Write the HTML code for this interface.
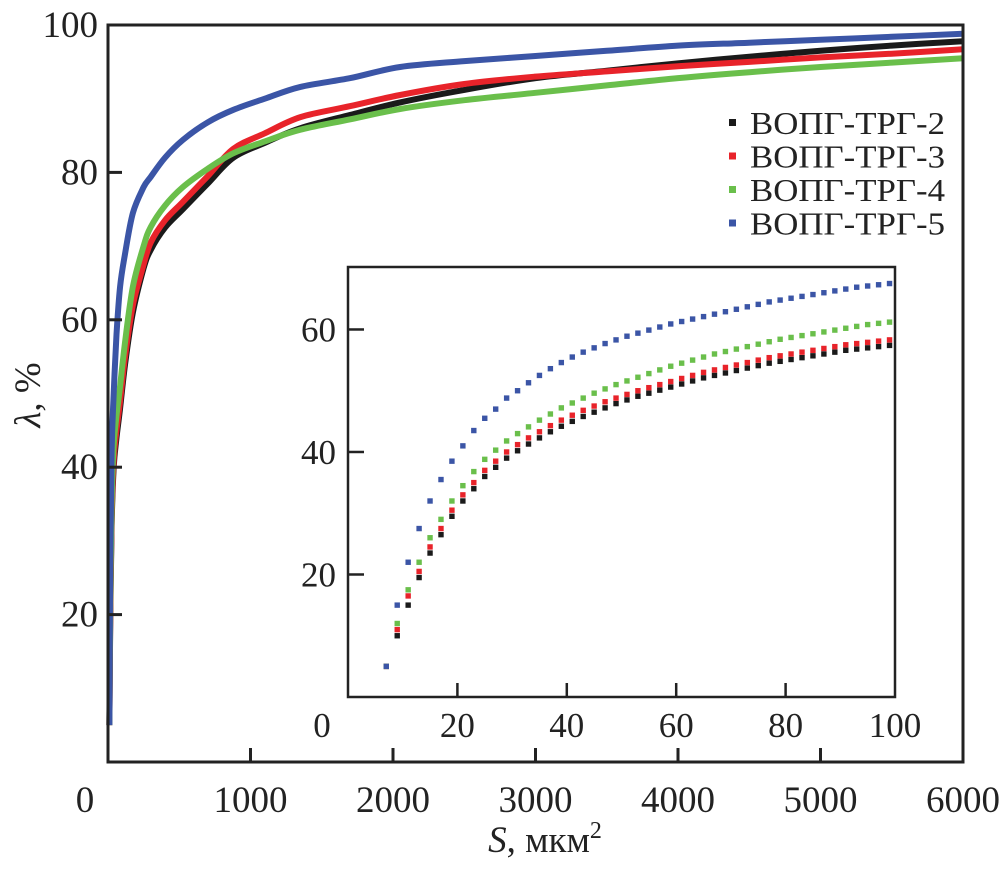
<!DOCTYPE html>
<html><head><meta charset="utf-8"><style>
body{margin:0;background:#fff;}
svg text{font-family:"Liberation Serif",serif;fill:#222;}
</style></head><body>
<svg id="chart" width="1001" height="870" viewBox="0 0 1001 870" xmlns="http://www.w3.org/2000/svg">
<g id="main"></g><g id="inset"></g>
</svg>
<script>
const mainS=[10,15,25,40,60,85,120,175,250,300,400,525,700,880,1100,1350,1700,2050,2500,3000,3500,4000,4500,5000,5500,6000];
const mainBlack=[5,17,32,40,44,48,54,61,67,69.5,72.5,75,78.5,82,84,86,87.8,89.5,91.2,92.8,93.8,94.8,95.7,96.5,97.2,97.8];
const mainRed=[5,18,33,41,45,49,55,62,67.5,70.5,73.5,76,79.5,83.2,85.3,87.5,89,90.5,92,93,93.7,94.4,95,95.6,96.1,96.7];
const mainGreen=[5,20,35,43,47,51,57,64.5,70,72.6,75.5,78,80.5,82.6,84.2,85.8,87.2,88.6,89.8,90.8,91.8,92.8,93.6,94.3,94.9,95.5];
const mainBlue=[5,25,42,50,58,64.5,69,74.5,78,79.4,82,84.4,86.8,88.5,90,91.6,92.8,94.3,95.1,95.8,96.5,97.2,97.6,98,98.4,98.8];
const mainXTicks=[0,1000,2000,3000,4000,5000,6000];
const mainYTicks=[20,40,60,80,100];
const insS=[7,9,11,13,15,17,19,21,23,25,27,29,31,33,35,37,39,41,43,45,47,49,51,53,55,57,59,61,63,65,67,69,71,73,75,77,79,81,83,85,87,89,91,93,95,97,99];
const insBlue=[5,15,22,27.5,32,35.5,38.5,41,43.5,45.5,47,48.8,50,51.3,52.5,53.6,54.6,55.5,56.3,57,57.7,58.3,58.9,59.4,59.9,60.4,60.9,61.3,61.7,62.1,62.5,62.9,63.3,63.7,64.1,64.5,64.8,65.1,65.4,65.7,66,66.3,66.6,66.9,67.1,67.3,67.5];
const insGreen=[5,12,17.5,22,26,29,32,34.5,36.8,38.8,40.3,41.8,43,44.1,45.2,46.2,47.2,48,48.8,49.6,50.3,51,51.6,52.2,52.8,53.4,54,54.5,55,55.5,56,56.4,56.8,57.2,57.6,58,58.4,58.7,59,59.3,59.6,59.9,60.2,60.5,60.8,61,61.2];
const insRed=[5,11,16.5,20.5,24.5,27.5,30.5,33,35,37,38.5,40,41.2,42.3,43.3,44.3,45.2,46,46.8,47.5,48.2,48.8,49.4,50,50.5,51,51.5,52,52.5,53,53.4,53.8,54.2,54.6,55,55.4,55.7,56,56.3,56.6,56.9,57.2,57.5,57.7,57.9,58.1,58.3];
const insBlack=[5,10,15,19.5,23.5,26.5,29.5,32,34,36,37.5,39,40.2,41.3,42.3,43.3,44.2,45,45.8,46.5,47.2,47.9,48.5,49.1,49.6,50.1,50.6,51.1,51.6,52.1,52.5,52.9,53.3,53.7,54.1,54.5,54.8,55.1,55.4,55.7,56,56.3,56.6,56.8,57,57.2,57.4];
const insXTicks=[0,20,40,60,80,100];
const insYTicks=[20,40,60];
const seriesNames=["ВОПГ-ТРГ-2","ВОПГ-ТРГ-3","ВОПГ-ТРГ-4","ВОПГ-ТРГ-5"];
const colors=["#1a1a1a","#e8232a","#6abf4b","#3b55a6"];

const NS="http://www.w3.org/2000/svg";
function mk(tag,attrs,parent,txt){const e=document.createElementNS(NS,tag);for(const k in attrs)e.setAttribute(k,attrs[k]);if(txt!==undefined)e.textContent=txt;parent.appendChild(e);return e;}
const mx=v=>108+v/6000*855, my=v=>762-v/100*737;
const ix=v=>348+v/100*547, iy=v=>697-v/70.2*430;
const gM=document.getElementById('main'), gI=document.getElementById('inset');

function smoothPath(P){
  let d='M'+P[0][0].toFixed(1)+','+P[0][1].toFixed(1);
  for(let i=0;i<P.length-1;i++){
    const p0=P[Math.max(0,i-1)],p1=P[i],p2=P[i+1],p3=P[Math.min(P.length-1,i+2)];
    const c1=[p1[0]+(p2[0]-p0[0])/6,p1[1]+(p2[1]-p0[1])/6];
    const c2=[p2[0]-(p3[0]-p1[0])/6,p2[1]-(p3[1]-p1[1])/6];
    d+=' C'+c1.map(n=>n.toFixed(1)).join(',')+' '+c2.map(n=>n.toFixed(1)).join(',')+' '+p2.map(n=>n.toFixed(1)).join(',');
  }
  return d;
}
[mainBlack,mainRed,mainGreen,mainBlue].forEach((arr,si)=>{
  const P=arr.map((v,i)=>[mx(mainS[i]),my(v)]);
  const p=mk('path',{d:smoothPath(P),fill:'none',stroke:colors[si],'stroke-width':6,'stroke-linejoin':'round'},gM);
  
  
});
const fr=mk('rect',{x:108,y:25,width:855,height:737,fill:'none',stroke:'#222','stroke-width':3},gM);


mainXTicks.forEach(t=>{
  if(t>0&&t<6000){const l=mk('line',{x1:mx(t),x2:mx(t),y1:762,y2:748,stroke:'#222','stroke-width':3},gM);
  
  }
  const tx=mk('text',{x:t==0?85:mx(t),y:812,'font-size':37,'text-anchor':'middle'},gM,String(t));
  
  
});
mainYTicks.forEach(t=>{
  if(t<100){const l=mk('line',{x1:108,x2:122,y1:my(t),y2:my(t),stroke:'#222','stroke-width':3},gM);
  
  }
  const tx=mk('text',{x:98,y:my(t)+12,'font-size':37,'text-anchor':'end'},gM,String(t));
  
  
});
const yl=mk('text',{x:0,y:0,'font-size':37,'text-anchor':'middle',transform:'translate(40,395) rotate(-90)'},gM);


yl.innerHTML='<tspan font-style="italic">λ</tspan>, %';
const xl=mk('text',{x:545,y:852,'font-size':37,'text-anchor':'middle'},gM);


xl.innerHTML='<tspan font-style="italic">S</tspan>, мкм<tspan font-size="24" dy="-14">2</tspan>';
seriesNames.forEach((n,i)=>{
  const y=123+i*33.5;
  const r=mk('rect',{x:729,y:y-4,width:7,height:7,fill:colors[i]},gM);
  
  
  const t=mk('text',{x:750,y:y+11,'font-size':32,textLength:195,lengthAdjust:'spacingAndGlyphs'},gM,n);
  
  
});
const ibg=mk('rect',{x:348,y:267,width:547,height:430,fill:'#fff',stroke:'#222','stroke-width':2.5},gI);


[insBlack,insRed,insGreen,insBlue].forEach((arr,si)=>{
  arr.forEach((v,i)=>{
    const r=mk('rect',{x:ix(insS[i])-2.7,y:iy(v)-2.7,width:5.4,height:5.4,fill:colors[si]},gI);
    
    
  });
});
insXTicks.forEach(t=>{
  if(t>0&&t<100){const l=mk('line',{x1:ix(t),x2:ix(t),y1:697,y2:683,stroke:'#222','stroke-width':2.5},gI);
  
  }
  const tx=mk('text',{x:t==0?322:ix(t),y:737,'font-size':35,'text-anchor':'middle'},gI,String(t));
  
  
});
insYTicks.forEach(t=>{
  const l=mk('line',{x1:348,x2:364,y1:iy(t),y2:iy(t),stroke:'#222','stroke-width':2.5},gI);
  
  
  const tx=mk('text',{x:336,y:iy(t)+12,'font-size':35,'text-anchor':'end'},gI,String(t));
  
  
});
</script>
</body></html>
